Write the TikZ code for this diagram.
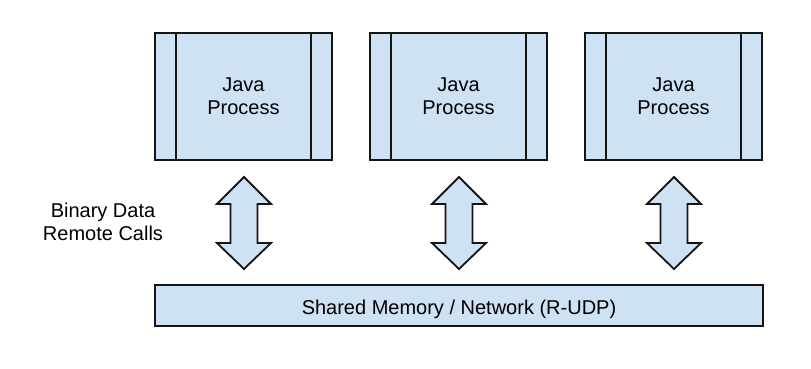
\documentclass[tikz,border=0pt]{standalone}
\usepackage{fontspec}
\setmainfont{Liberation Sans}
\definecolor{boxfill}{RGB}{207,226,243}
\definecolor{edge}{RGB}{20,20,20}
\begin{document}
\begin{tikzpicture}[x=1pt,y=-1pt,
  txt/.style={font=\fontsize{20}{23}\selectfont},
  proc/.style={txt,draw=edge,fill=boxfill,line width=1.8pt,minimum width=177pt,minimum height=127pt,
    inner sep=0pt,align=center},
  band/.style={draw=edge,line width=1.8pt},
  bar/.style={txt,draw=edge,fill=boxfill,line width=1.8pt,minimum width=608pt,minimum height=41pt,
    inner sep=0pt,text height=17pt,text depth=0pt},
  dblarrow/.style={draw=edge,fill=boxfill,line width=1.8pt,line join=miter},
  lbl/.style={txt,align=center}]
\useasboundingbox (0,0) rectangle (811,368);

% three processes, each with side bands
\foreach \n/\x in {p1/243.5,p2/458.5,p3/673.5}{
  \node[proc] (\n) at (\x,96.5) {Java\\Process};
  \draw[band] ([xshift=22pt]\n.north west) -- ([xshift=22pt]\n.south west);
  \draw[band] ([xshift=-22pt]\n.north east) -- ([xshift=-22pt]\n.south east);
}

% shared transport bar
\node[bar] (net) at (459,305.5) {Shared Memory / Network (R-UDP)};

% two-way block arrows between each process and the bar
\foreach \c/\cx in {a1/244,a2/459,a3/674}{
  \coordinate (\c) at (\cx,223);
  \draw[dblarrow] ([yshift=-46pt]\c) -- ([xshift=27pt,yshift=-20pt]\c) -- ([xshift=13.5pt,yshift=-20pt]\c)
    -- ([xshift=13.5pt,yshift=19pt]\c) -- ([xshift=27pt,yshift=19pt]\c) -- ([yshift=46pt]\c)
    -- ([xshift=-27pt,yshift=19pt]\c) -- ([xshift=-13.5pt,yshift=19pt]\c)
    -- ([xshift=-13.5pt,yshift=-20pt]\c) -- ([xshift=-27pt,yshift=-20pt]\c) -- cycle;
}

\node[lbl] (calls) at (103,222) {Binary Data\\Remote Calls};
\end{tikzpicture}
\end{document}
